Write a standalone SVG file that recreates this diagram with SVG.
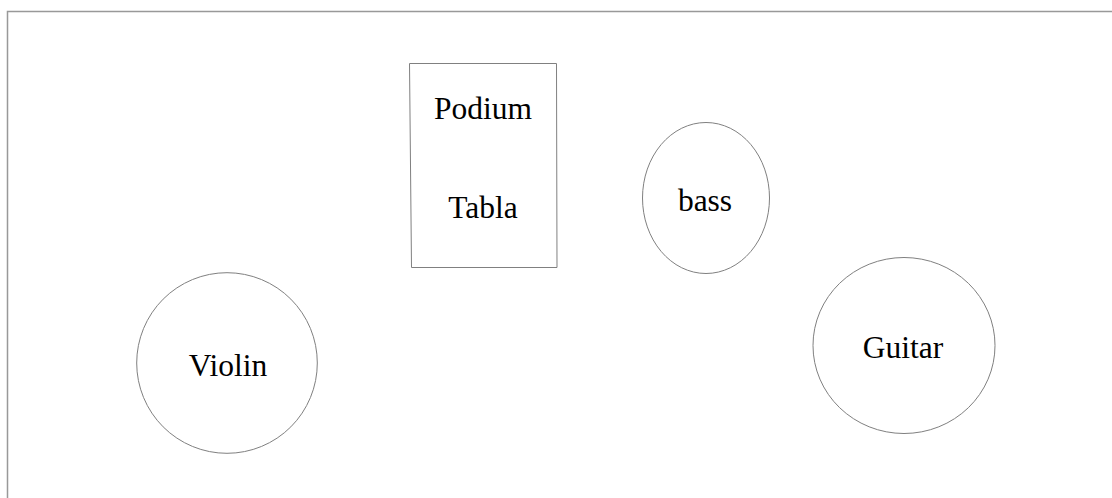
<svg xmlns="http://www.w3.org/2000/svg" width="1112" height="498" viewBox="0 0 1112 498">
<style>
.shape{fill:#fff;stroke:#808080;stroke-width:1}
.frame{fill:none;stroke:#999;stroke-width:1.5}
.lbl{font-family:"Liberation Serif","Times New Roman",serif;font-size:31.5px;fill:#000;text-anchor:middle}
</style>
<rect width="1112" height="498" fill="#fff"/>
<path class="frame" d="M7.5,498 V11.5 H1112"/>
<g id="podium">
<path class="shape" d="M409.5,63.5 L556.5,63.5 L557,267.5 L411.5,267.5 Z"/>
<text class="lbl" x="483" y="119">Podium</text>
<text class="lbl" x="483" y="218">Tabla</text>
</g>
<g id="bass">
<ellipse class="shape" cx="706" cy="198" rx="63.5" ry="75.5"/>
<text class="lbl" x="705" y="211">bass</text>
</g>
<g id="violin">
<circle class="shape" cx="227" cy="363" r="90.3"/>
<text class="lbl" x="228" y="376">Violin</text>
</g>
<g id="guitar">
<ellipse class="shape" cx="904" cy="345.5" rx="91" ry="88"/>
<text class="lbl" x="903" y="358">Guitar</text>
</g>
<g id="connectors"/>
</svg>
